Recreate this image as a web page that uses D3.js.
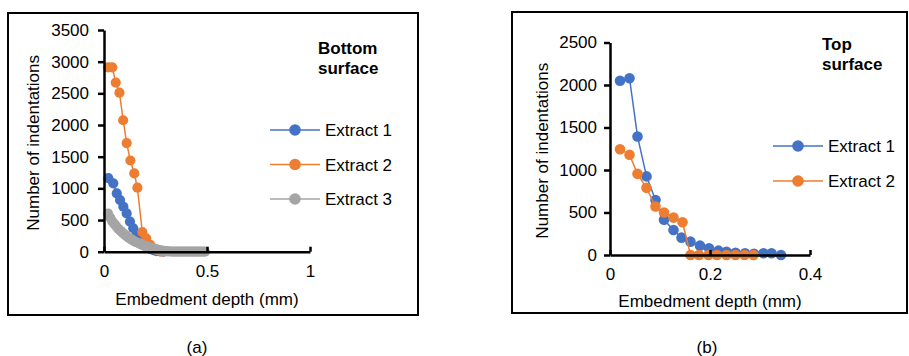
<!DOCTYPE html>
<html>
<head>
<meta charset="utf-8">
<script src="https://cdn.jsdelivr.net/npm/d3@7"></script>
<style>
  html, body { margin: 0; padding: 0; background: #fff; }
  svg { display: block; font-family: "Liberation Sans", Arial, sans-serif; }
</style>
</head>
<body>
<svg id="fig" width="909" height="356"></svg>
<script>
// ---- Panel (a): bottom surface ----
const bottomExtract1X = [0.021, 0.045, 0.062, 0.078, 0.094, 0.110, 0.126, 0.142, 0.158, 0.175, 0.190, 0.207, 0.223, 0.240, 0.256, 0.272, 0.290];
const bottomExtract1Y = [1160, 1080, 920, 815, 710, 605, 475, 370, 270, 190, 130, 80, 45, 25, 10, 5, 0];

const bottomExtract2X = [0.020, 0.040, 0.057, 0.075, 0.093, 0.110, 0.128, 0.147, 0.162, 0.186, 0.205, 0.224, 0.243, 0.262, 0.280];
const bottomExtract2Y = [2910, 2910, 2670, 2510, 2075, 1715, 1440, 1235, 1010, 310, 210, 110, 50, 15, 0];

const bottomExtract3X = [0.02, 0.03, 0.04, 0.05, 0.06, 0.07, 0.08, 0.09, 0.10, 0.11, 0.12, 0.13, 0.14, 0.15, 0.16, 0.17,
  0.18, 0.19, 0.20, 0.21, 0.22, 0.23, 0.24, 0.25, 0.26, 0.27, 0.28, 0.29, 0.30, 0.31, 0.32, 0.33, 0.34, 0.35, 0.36, 0.37,
  0.38, 0.39, 0.40, 0.41, 0.42, 0.43, 0.44, 0.45, 0.46, 0.47, 0.48, 0.49];
const bottomExtract3Y = [600, 540, 480, 440, 400, 360, 330, 300, 270, 245, 220, 200, 180, 160, 145, 130,
  115, 100, 90, 80, 70, 60, 50, 40, 32, 25, 18, 12, 8, 5, 3, 2, 2, 1, 1, 1,
  1, 0, 0, 0, 0, 0, 0, 0, 0, 0, 0, 0];

const bottomXTicks = [0, 0.5, 1];
const bottomYTicks = [0, 500, 1000, 1500, 2000, 2500, 3000, 3500];

// ---- Panel (b): top surface ----
const topExtract1X = [0.020, 0.039, 0.055, 0.073, 0.091, 0.108, 0.127, 0.143, 0.161, 0.180, 0.198, 0.217, 0.233, 0.251, 0.270, 0.288, 0.307, 0.323, 0.342];
const topExtract1Y = [2050, 2080, 1395, 925, 647, 415, 294, 204, 157, 110, 79, 51, 39, 27, 20, 15, 20, 20, 0];

const topExtract2X = [0.020, 0.039, 0.055, 0.073, 0.091, 0.108, 0.127, 0.145, 0.161, 0.178, 0.197, 0.214, 0.233, 0.251, 0.269, 0.287];
const topExtract2Y = [1245, 1180, 955, 790, 570, 500, 440, 385, 0, 0, 0, 0, 0, 0, 0, 0];

const topXTicks = [0, 0.2, 0.4];
const topYTicks = [0, 500, 1000, 1500, 2000, 2500];

const BLUE = "#4472C4", ORANGE = "#ED7D31", GRAY = "#A5A5A5";

const svg = d3.select("#fig");

function zip(xs, ys) { return xs.map((x, i) => ({ x, y: ys[i] })); }

function panel(cfg) {
  const g = svg.append("g");

  // outer frame
  g.append("rect")
    .attr("x", cfg.frame[0]).attr("y", cfg.frame[1])
    .attr("width", cfg.frame[2]).attr("height", cfg.frame[3])
    .attr("fill", "none").attr("stroke", "#000").attr("stroke-width", 2);

  const x = d3.scaleLinear().domain(cfg.xDomain).range([cfg.x0, cfg.x1]);
  const y = d3.scaleLinear().domain(cfg.yDomain).range([cfg.y0, cfg.y1]);

  // series: line then markers, later series drawn on top
  const line = d3.line().x(d => x(d.x)).y(d => y(d.y));
  cfg.series.forEach(s => {
    const pts = zip(s.xs, s.ys);
    g.append("path").datum(pts)
      .attr("d", line).attr("fill", "none")
      .attr("stroke", s.color).attr("stroke-width", 1.5);
    g.append("g").selectAll("circle").data(pts).join("circle")
      .attr("cx", d => x(d.x)).attr("cy", d => y(d.y))
      .attr("r", cfg.markerR).attr("fill", s.color);
  });

  // y axis
  const ya = g.append("g").attr("transform", `translate(${cfg.x0},0)`)
    .call(d3.axisLeft(y).tickValues(cfg.yTicks).tickSizeInner(6).tickSizeOuter(0)
      .tickPadding(cfg.yPad).tickFormat(d3.format("d")));
  // x axis (small ticks pointing up into the plot)
  const xa = g.append("g").attr("transform", `translate(0,${cfg.y0})`)
    .call(d3.axisBottom(x).tickValues(cfg.xTicks).tickSizeInner(-5).tickSizeOuter(0)
      .tickPadding(13).tickFormat(d => d === 0 ? "0" : d3.format("")(d)));

  [ya, xa].forEach(a => {
    a.select(".domain").attr("stroke", "#000").attr("stroke-width", 2.5);
    a.selectAll(".tick line").attr("stroke", "#000").attr("stroke-width", 2.5);
    a.selectAll(".tick text").attr("fill", "#000").style("font-size", "17px")
      .style("font-family", "'Liberation Sans', Arial, sans-serif");
  });

  // axis titles
  g.append("text")
    .attr("x", (cfg.x0 + cfg.x1) / 2).attr("y", cfg.xTitleY)
    .attr("text-anchor", "middle").style("font-size", "17px")
    .text("Embedment depth (mm)");
  g.append("text")
    .attr("transform", `translate(${cfg.yTitleX},${(cfg.y0 + cfg.y1) / 2 + 2}) rotate(-90)`)
    .attr("text-anchor", "middle").style("font-size", "17px")
    .text("Number of indentations");

  // bold surface label
  cfg.label.forEach((t, i) => {
    g.append("text").attr("x", cfg.labelX).attr("y", cfg.labelY + i * 20)
      .style("font-size", "17px").style("font-weight", "bold").text(t);
  });

  // legend
  cfg.series.forEach((s, i) => {
    const ly = cfg.legendY + i * cfg.legendStep;
    g.append("line")
      .attr("x1", cfg.legendX).attr("x2", cfg.legendX + 50)
      .attr("y1", ly).attr("y2", ly)
      .attr("stroke", s.color).attr("stroke-width", 1.5);
    g.append("circle").attr("cx", cfg.legendX + 25).attr("cy", ly)
      .attr("r", 5.8).attr("fill", s.color);
    g.append("text").attr("x", cfg.legendX + 55).attr("y", ly)
      .attr("dy", "0.36em").style("font-size", "17px").text(s.name);
  });

  // caption
  g.append("text").attr("x", cfg.captionX).attr("y", 353)
    .attr("text-anchor", "middle").style("font-size", "17px").text(cfg.caption);
}

panel({
  frame: [8, 13, 410, 302],
  xDomain: [0, 1], yDomain: [0, 3500],
  x0: 104, x1: 310, y0: 251.7, y1: 30,
  xTicks: bottomXTicks, yTicks: bottomYTicks, yPad: 9,
  markerR: 5.1,
  xTitleY: 305, yTitleX: 39,
  label: ["Bottom", "surface"], labelX: 318, labelY: 54,
  legendX: 270, legendY: 130, legendStep: 34.5,
  captionX: 197, caption: "(a)",
  series: [
    { name: "Extract 1", color: BLUE, xs: bottomExtract1X, ys: bottomExtract1Y },
    { name: "Extract 2", color: ORANGE, xs: bottomExtract2X, ys: bottomExtract2Y },
    { name: "Extract 3", color: GRAY, xs: bottomExtract3X, ys: bottomExtract3Y }
  ]
});

panel({
  frame: [512, 12, 395, 301],
  xDomain: [0, 0.4], yDomain: [0, 2500],
  x0: 610, x1: 810, y0: 255, y1: 42.5,
  xTicks: topXTicks, yTicks: topYTicks, yPad: 7,
  markerR: 5.3,
  xTitleY: 307, yTitleX: 548,
  label: ["Top", "surface"], labelX: 822, labelY: 50,
  legendX: 773, legendY: 146, legendStep: 35,
  captionX: 707, caption: "(b)",
  series: [
    { name: "Extract 1", color: BLUE, xs: topExtract1X, ys: topExtract1Y },
    { name: "Extract 2", color: ORANGE, xs: topExtract2X, ys: topExtract2Y }
  ]
});
</script>
</body>
</html>
